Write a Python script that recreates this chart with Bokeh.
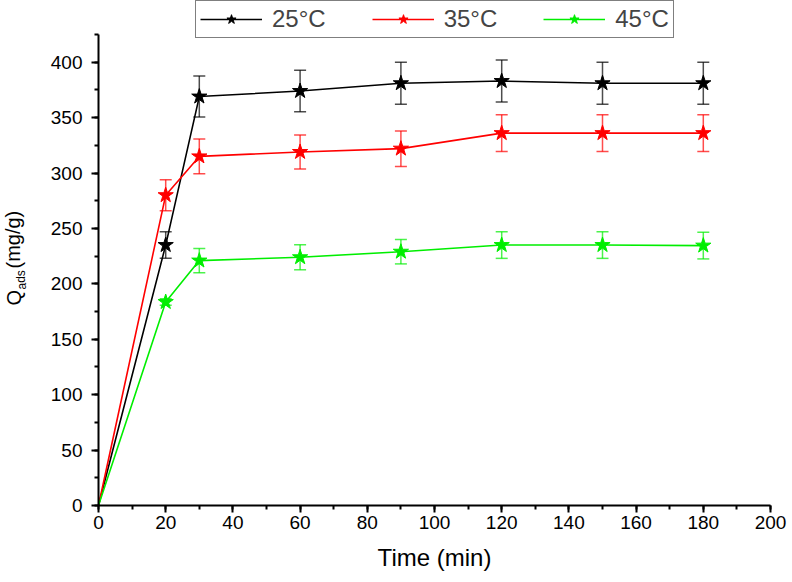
from bokeh.plotting import figure
from bokeh.models import (Range1d, ColumnDataSource, Whisker, TeeHead, Legend,
                          LegendItem, SingleIntervalTicker, Label)
from bokeh.embed import file_html
from bokeh.resources import INLINE

# ---- data ----
time_min = [0, 20, 30, 60, 90, 120, 150, 180]
q_25 = [0, 235, 369, 374, 381, 383, 381, 381]
err_25 = [0, 12, 18.5, 18.7, 19, 19, 19, 19]
q_35 = [0, 280, 315, 319, 322, 336, 336, 336]
err_35 = [0, 14, 15.7, 15.4, 16, 16.6, 16.6, 16.6]
q_45 = [0, 183.6, 221, 224, 229, 235, 235, 234.5]
err_45 = [0, 3, 11, 11.3, 11, 12, 12, 12]
series_labels = ["25\u00b0C", "35\u00b0C", "45\u00b0C"]
series_colors = ["#000000", "#ff0000", "#00ee00"]
x_label = "Time (min)"
y_label_main = "Q"
y_label_sub = "ads"
y_label_unit = "(mg/g)"

FONT = "Liberation Sans"
W, H = 792, 582
# frame pixel layout: x 0..200 -> px 98..770, y 0..425 -> px 505..34
xs = 672 / 200.0
ys = 471 / 425.0
x0 = -98 / xs
x1 = 200 + (W - 770) / xs
y0 = -(H - 505) / ys
y1 = 425 + 34 / ys

p = figure(width=W, height=H, output_backend="svg", toolbar_location=None,
           x_range=Range1d(x0, x1), y_range=Range1d(y0, y1), min_border=0)
p.outline_line_color = None
p.xgrid.grid_line_color = None
p.ygrid.grid_line_color = None
p.background_fill_color = "white"
p.border_fill_color = "white"

for ax in (p.xaxis[0], p.yaxis[0]):
    ax.axis_line_width = 2
    ax.major_tick_line_width = 2
    ax.minor_tick_line_width = 2
    ax.major_tick_out = 7
    ax.major_tick_in = 0
    ax.minor_tick_out = 4
    ax.minor_tick_in = 0
    ax.major_label_text_font = FONT
    ax.major_label_text_font_size = "19px"
    ax.major_label_text_color = "black"
    ax.axis_line_color = "black"
    ax.major_tick_line_color = "black"
    ax.minor_tick_line_color = "black"

p.xaxis.fixed_location = 0
p.yaxis.fixed_location = 0
p.xaxis.bounds = (0, 200)
p.yaxis.bounds = (0, 425)
p.xaxis.ticker = SingleIntervalTicker(interval=20, num_minor_ticks=2)
p.yaxis.ticker = SingleIntervalTicker(interval=50, num_minor_ticks=2)
p.xaxis.axis_label = x_label
p.xaxis.axis_label_text_font = FONT
p.xaxis.axis_label_text_font_size = "24px"
p.xaxis.axis_label_text_font_style = "normal"
p.xaxis.axis_label_text_color = "black"
p.xaxis.axis_label_standoff = 12
p.yaxis.major_label_standoff = 9
p.xaxis.major_label_standoff = 3

items = []
for q, e, lab, col in zip([q_25, q_35, q_45], [err_25, err_35, err_45],
                          series_labels, series_colors):
    lower = [v - d for v, d in zip(q, e)]
    upper = [v + d for v, d in zip(q, e)]
    src = ColumnDataSource(dict(x=time_min, y=q, lower=lower, upper=upper))
    msrc = ColumnDataSource(dict(x=time_min[1:], y=q[1:],
                                 lower=lower[1:], upper=upper[1:]))
    w = Whisker(source=msrc, base="x", lower="lower", upper="upper",
                line_color=col, line_alpha=0.7, line_width=1.5,
                upper_head=TeeHead(size=12, line_color=col, line_alpha=0.7, line_width=1.5),
                lower_head=TeeHead(size=12, line_color=col, line_alpha=0.7, line_width=1.5))
    p.add_layout(w)
    r1 = p.line("x", "y", source=src, line_color=col, line_width=1.6)
    r2 = p.scatter("x", "y", source=msrc, marker="star", size=16,
                   fill_color=col, line_color=col)
    items.append(LegendItem(label=lab, renderers=[r1, r2]))

legend = Legend(items=items, orientation="horizontal", location=(195, 544),
                label_text_font=FONT, label_text_font_size="24px",
                glyph_width=62, glyph_height=24, label_standoff=10,
                spacing=46, padding=4, margin=0,
                border_line_color="black", border_line_width=1.5,
                background_fill_color="white", background_fill_alpha=1)
p.add_layout(legend, "center")

# y-axis label with subscript, built from text pieces
def px_x(px):
    return (px - 98) / xs

def px_y(py):
    return (505 - py) / ys

p.add_layout(Label(x=px_x(13), y=px_y(305), text=y_label_main, angle=1.5708,
                   angle_units="rad", text_font=FONT, text_font_size="20px",
                   text_align="left", text_baseline="middle", text_color="black"))
p.add_layout(Label(x=px_x(21), y=px_y(289), text=y_label_sub, angle=1.5708,
                   angle_units="rad", text_font=FONT, text_font_size="12px",
                   text_align="left", text_baseline="middle", text_color="black"))
p.add_layout(Label(x=px_x(13), y=px_y(268), text=y_label_unit, angle=1.5708,
                   angle_units="rad", text_font=FONT, text_font_size="20px",
                   text_align="left", text_baseline="middle", text_color="black"))

open("out.html", "w").write(file_html(p, INLINE))
